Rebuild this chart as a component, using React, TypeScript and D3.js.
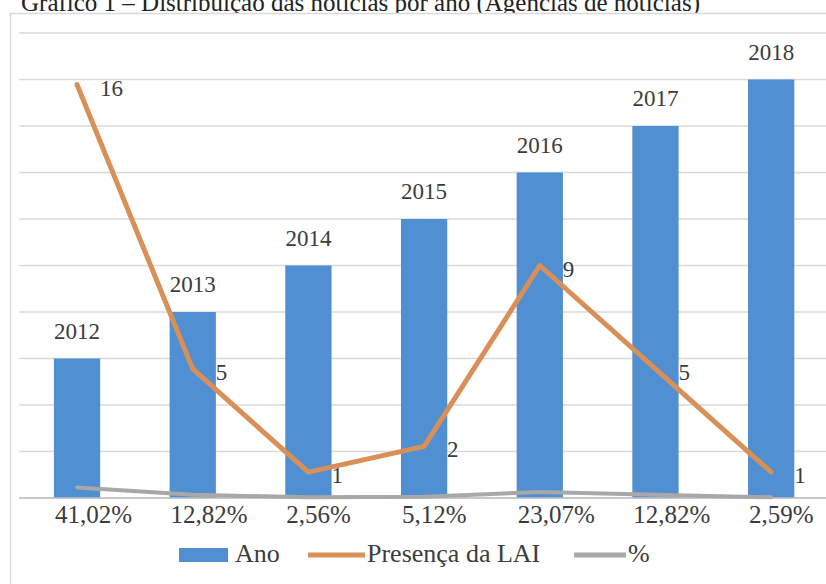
import React from "react";
import * as d3 from "d3";

const years = ["2012", "2013", "2014", "2015", "2016", "2017", "2018"];
const anoValues = [2012, 2013, 2014, 2015, 2016, 2017, 2018];
const laiValues = [16, 5, 1, 2, 9, 5, 1];
const pctValues = [41.02, 12.82, 2.56, 5.12, 23.07, 12.82, 2.59];
const pctLabels = ["41,02%", "12,82%", "2,56%", "5,12%", "23,07%", "12,82%", "2,59%"];
const title = "Gráfico 1 – Distribuição das notícias por ano (Agências de notícias)";

const W = 826;
const H = 584;
const plotLeft = 19.2;
const plotRight = 829;
const plotTop = 33;
const plotBottom = 498;

const FONT = '"Liberation Serif", "DejaVu Serif", "Noto Serif", serif';
const TEXT = "#3c3c3c";
const BLUE = "#4f8fd2";
const ORANGE = "#d98f58";
const GRAY = "#a8a8a8";

export default function App() {
  const x = d3
    .scaleBand<string>()
    .domain(years)
    .range([plotLeft, plotRight])
    .paddingInner(0.6)
    .paddingOuter(0.3);
  const y = d3.scaleLinear().domain([2009, 2019]).range([plotBottom, plotTop]);
  const y2 = d3.scaleLinear().domain([0, 18]).range([plotBottom, plotTop]);
  const cx = (i: number) => (x(years[i]) as number) + x.bandwidth() / 2;

  const grid = y.ticks(10);
  const laiLine = d3
    .line<number>()
    .x((_, i) => cx(i))
    .y((d) => y2(d))(laiValues) as string;
  const pctLine = d3
    .line<number>()
    .x((_, i) => cx(i))
    .y((d) => y2(d / 100))(pctValues) as string;

  const ts = { fontFamily: FONT } as React.CSSProperties;

  return (
    <svg
      width={W}
      height={H}
      style={{ position: "absolute", left: 0, top: 0, background: "#fff", fontFamily: FONT }}
    >
      <rect x={0} y={0} width={W} height={H} fill="#fff" />
      <text x={21} y={11} fontSize={25} fill="#222" style={ts}>
        {title}
      </text>
      <rect x={10.5} y={13.5} width={840} height={620} fill="#fff" stroke="#d9d9d9" strokeWidth={1.5} />
      {grid.map((g) => (
        <line
          key={g}
          x1={plotLeft}
          x2={plotRight}
          y1={y(g)}
          y2={y(g)}
          stroke="#d9d9d9"
          strokeWidth={1.5}
        />
      ))}
      {anoValues.map((v, i) => (
        <rect
          key={years[i]}
          x={x(years[i])}
          y={y(v)}
          width={x.bandwidth()}
          height={plotBottom - y(v)}
          fill={BLUE}
        />
      ))}
      <line x1={plotLeft} x2={plotRight} y1={plotBottom} y2={plotBottom} stroke="#bfbfbf" strokeWidth={1.5} />
      <path d={pctLine} fill="none" stroke={GRAY} strokeWidth={4} strokeLinejoin="round" strokeLinecap="round" />
      <path d={laiLine} fill="none" stroke={ORANGE} strokeWidth={5} strokeLinejoin="round" strokeLinecap="round" />
      {anoValues.map((v, i) => (
        <text
          key={"yl" + i}
          x={cx(i)}
          y={y(v) - 20}
          textAnchor="middle"
          fontSize={23}
          fill={TEXT}
          style={ts}
        >
          {years[i]}
        </text>
      ))}
      {laiValues.map((v, i) => (
        <text key={"ll" + i} x={cx(i) + 23} y={y2(v) + 11} fontSize={23} fill={TEXT} style={ts}>
          {v}
        </text>
      ))}
      {pctLabels.map((p, i) => (
        <text key={"pl" + i} x={(x(years[i]) as number) + 1} y={523} fontSize={25} fill={TEXT} style={ts}>
          {p}
        </text>
      ))}
      <g fontSize={26} fill={TEXT} style={ts}>
        <rect x={179} y={548} width={49} height={14} fill={BLUE} />
        <text x={235} y={562}>Ano</text>
        <line x1={308} x2={365} y1={555} y2={555} stroke={ORANGE} strokeWidth={5} />
        <text x={367} y={562}>Presença da LAI</text>
        <line x1={574} x2={626} y1={555} y2={555} stroke={GRAY} strokeWidth={5} />
        <text x={628} y={562}>%</text>
      </g>
    </svg>
  );
}
